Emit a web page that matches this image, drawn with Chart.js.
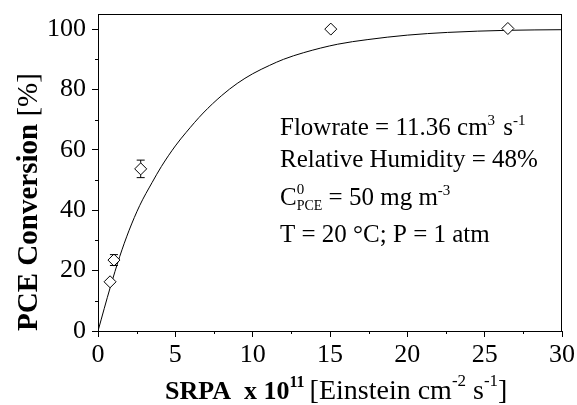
<!DOCTYPE html>
<html>
<head>
<meta charset="utf-8">
<script src="https://cdn.jsdelivr.net/npm/chart.js@4.4.1/dist/chart.umd.min.js"></script>
<style>
  html, body { margin: 0; padding: 0; background: #fff; }
  #wrap { width: 577px; height: 405px; }
</style>
</head>
<body>
<div id="wrap"><canvas id="myChart"></canvas></div>
<script>
// Measured points
const srpa = [0.78, 1.03, 2.76, 15.05, 26.5];
const conversion = [16.3, 23.5, 53.7, 100, 100.2];
const errors = [0, 1.8, 2.9, 0, 0];

// Fitted curve
const fitX = [0, 0.8, 1.4, 2.0, 2.7, 3.5, 4.1, 5.0, 5.7, 6.8, 8.0, 9.0, 10.0, 11.1, 12.0, 13.3, 15.5, 17.4, 20.0, 22.6, 26.5, 30];
const fitY = [0, 14.6, 24.6, 33.2, 41.6, 49.2, 54.5, 61.3, 65.8, 72.2, 78.0, 82.0, 85.2, 88.0, 90.0, 92.2, 95.0, 96.5, 98.0, 98.9, 99.6, 99.8];

// Axis ticks
const xTicks = [0, 5, 10, 15, 20, 25, 30];
const yTicks = [0, 20, 40, 60, 80, 100];
const xMinor = [2.5, 7.5, 12.5, 17.5, 22.5, 27.5];
const yMinor = [10, 30, 50, 70, 90];

const serif = '"Liberation Serif", "Times New Roman", serif';

// draw text runs one after another, returns end x
function runs(ctx, x, y, parts) {
  parts.forEach(p => {
    ctx.font = p.f;
    ctx.fillText(p.t, x, y + (p.dy || 0));
    x += ctx.measureText(p.t).width + (p.gap || 0);
  });
  return x;
}

const extras = {
  id: 'extras',
  afterDatasetsDraw(chart) {
    const ctx = chart.ctx;
    const a = chart.chartArea;
    const xs = chart.scales.x, ys = chart.scales.y;
    ctx.save();
    ctx.strokeStyle = '#000';
    ctx.fillStyle = '#000';
    ctx.lineWidth = 1;

    // frame
    ctx.strokeRect(a.left + 0.5, a.top + 0.5, a.right - a.left - 1, a.bottom - a.top);

    // minor ticks
    ctx.beginPath();
    xMinor.forEach(v => {
      const px = Math.round(xs.getPixelForValue(v)) + 0.5;
      ctx.moveTo(px, a.bottom); ctx.lineTo(px, a.bottom + 3);
    });
    yMinor.forEach(v => {
      const py = Math.round(ys.getPixelForValue(v)) + 0.5;
      ctx.moveTo(a.left, py); ctx.lineTo(a.left - 3, py);
    });
    ctx.stroke();

    // error bars
    ctx.beginPath();
    srpa.forEach((x, i) => {
      if (!errors[i]) return;
      const px = xs.getPixelForValue(x);
      const top = ys.getPixelForValue(conversion[i] + errors[i]);
      const bot = ys.getPixelForValue(conversion[i] - errors[i]);
      const c = ys.getPixelForValue(conversion[i]);
      ctx.moveTo(px, top); ctx.lineTo(px, c - 6);
      ctx.moveTo(px, c + 6); ctx.lineTo(px, bot);
      ctx.moveTo(px - 4, top); ctx.lineTo(px + 4, top);
      ctx.moveTo(px - 4, bot); ctx.lineTo(px + 4, bot);
    });
    ctx.stroke();

    // annotation
    const big = '25px ' + serif, small = '15px ' + serif, tiny = '14px ' + serif;
    ctx.textBaseline = 'alphabetic';
    ctx.textAlign = 'left';
    const tx = 280;
    runs(ctx, tx, 135, [
      { t: 'Flowrate = 11.36 cm', f: big },
      { t: '3', f: small, dy: -10, gap: 2 },
      { t: ' s', f: big },
      { t: '-1', f: small, dy: -10 }
    ]);
    runs(ctx, tx, 167, [{ t: 'Relative Humidity = 48%', f: big }]);
    let cx = runs(ctx, tx, 205, [{ t: 'C', f: big }]);
    ctx.font = small; ctx.fillText('0', cx, 205 - 11);
    ctx.font = tiny; ctx.fillText('PCE', cx, 205 + 5);
    cx += ctx.measureText('PCE').width;
    runs(ctx, cx, 205, [
      { t: ' = 50 mg m', f: big },
      { t: '-3', f: small, dy: -10 }
    ]);
    runs(ctx, tx, 242, [{ t: 'T = 20 \u00b0C; P = 1 atm', f: big }]);

    // x title
    const xb = 'bold 26px ' + serif, xr = '28px ' + serif, xs2 = '17px ' + serif;
    runs(ctx, 165, 399, [
      { t: 'SRPA  x 10', f: xb },
      { t: '11', f: 'bold 16px ' + serif, dy: -12, gap: 5 },
      { t: '[Einstein cm', f: xr },
      { t: '-2', f: xs2, dy: -13 },
      { t: ' s', f: xr },
      { t: '-1', f: xs2, dy: -13 },
      { t: ']', f: xr }
    ]);

    // y title, rotated
    ctx.translate(37, 202);
    ctx.rotate(-Math.PI / 2);
    const yb = 'bold 29px ' + serif, yr = '29px ' + serif;
    ctx.font = yb;
    const w1 = ctx.measureText('PCE Conversion ').width;
    ctx.font = yr;
    const w2 = ctx.measureText('[%]').width;
    runs(ctx, -(w1 + w2) / 2, 0, [
      { t: 'PCE Conversion ', f: yb },
      { t: '[%]', f: yr }
    ]);
    ctx.restore();
  }
};

const ctx = document.getElementById('myChart');

new Chart(ctx, {
  type: 'scatter',
  data: {
    datasets: [
      {
        label: 'fit',
        data: fitX.map((x, i) => ({ x: x, y: fitY[i] })),
        showLine: true,
        borderColor: '#000',
        borderWidth: 1,
        pointRadius: 0,
        cubicInterpolationMode: 'monotone',
        order: 2
      },
      {
        label: 'PCE',
        data: srpa.map((x, i) => ({ x: x, y: conversion[i] })),
        pointStyle: 'rectRot',
        pointRadius: 6,
        borderColor: '#000',
        backgroundColor: '#fff',
        borderWidth: 1,
        order: 1
      }
    ]
  },
  options: {
    responsive: true,
    maintainAspectRatio: false,
    animation: false,
    layout: { padding: { top: 14, right: 15, left: 0, bottom: 0 } },
    plugins: { legend: { display: false }, tooltip: { enabled: false } },
    scales: {
      x: {
        type: 'linear',
        min: 0,
        max: 30,
        afterBuildTicks: s => { s.ticks = xTicks.map(v => ({ value: v })); },
        afterFit: s => { s.height = 74; s.paddingLeft = 0; s.paddingRight = 0; },
        grid: { drawOnChartArea: false, tickLength: 6, color: '#000' },
        border: { color: '#000' },
        ticks: { color: '#000', padding: 3, font: { family: serif, size: 26 } }
      },
      y: {
        type: 'linear',
        min: 0,
        max: 105,
        afterBuildTicks: s => { s.ticks = yTicks.map(v => ({ value: v })); },
        afterFit: s => { s.width = 98; s.paddingTop = 0; s.paddingBottom = 0; },
        grid: { drawOnChartArea: false, tickLength: 6, color: '#000' },
        border: { color: '#000' },
        ticks: { color: '#000', padding: 6, font: { family: serif, size: 26 } }
      }
    }
  },
  plugins: [extras]
});
</script>
</body>
</html>
